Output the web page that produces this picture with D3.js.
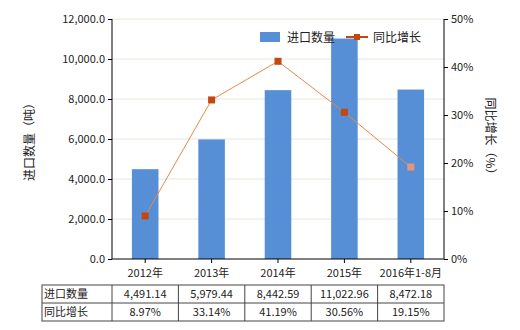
<!DOCTYPE html>
<html>
<head>
<meta charset="utf-8">
<script src="https://cdn.jsdelivr.net/npm/d3@7"></script>
<style>
  body{ margin:0; background:#fff; font-family:"Noto Sans CJK SC", sans-serif; }
  svg text{ font-family:"Noto Sans CJK SC", sans-serif; fill:#222; }
</style>
</head>
<body>
<div id="container"></div>
<script>
var categories = ["2012年", "2013年", "2014年", "2015年", "2016年1-8月"];
var importQty = [4491.14, 5979.44, 8442.59, 11022.96, 8472.18];
var yoyGrowth = [8.97, 33.14, 41.19, 30.56, 19.15];
var qtyLabels = ["4,491.14", "5,979.44", "8,442.59", "11,022.96", "8,472.18"];
var yoyLabels = ["8.97%", "33.14%", "41.19%", "30.56%", "19.15%"];
var leftTicks = [0, 2000, 4000, 6000, 8000, 10000, 12000];
var rightTicks = [0, 10, 20, 30, 40, 50];
var seriesNames = ["进口数量", "同比增长"];

var W = 520, H = 330;
var margin = {top: 19, left: 112, right: 76, bottom: 71};
var width = W - margin.left - margin.right,
    height = H - margin.top - margin.bottom;

var svg = d3.select("#container").append("svg")
    .attr("width", W).attr("height", H);

var x = d3.scaleBand().domain(categories).range([0, width]).paddingInner(0.6).paddingOuter(0.3);
var yL = d3.scaleLinear().domain([0, 12000]).range([height, 0]);
var yR = d3.scaleLinear().domain([0, 50]).range([height, 0]);

var g = svg.append("g").attr("transform", "translate(" + margin.left + "," + margin.top + ")");

// gridlines
g.selectAll(".grid").data(leftTicks.slice(1)).enter().append("line")
  .attr("x1", 0).attr("x2", width)
  .attr("y1", d => yL(d)).attr("y2", d => yL(d))
  .attr("stroke", "#e8e6dc").attr("stroke-width", 1);

// bars
g.selectAll(".bar").data(importQty).enter().append("rect")
  .attr("x", (d, i) => x(categories[i]))
  .attr("width", x.bandwidth())
  .attr("y", d => yL(d))
  .attr("height", d => height - yL(d))
  .attr("fill", "#568fd6");

// line
var line = d3.line()
  .x((d, i) => x(categories[i]) + x.bandwidth() / 2)
  .y(d => yR(d));
g.append("path").datum(yoyGrowth)
  .attr("d", line).attr("fill", "none")
  .attr("stroke", "#e8884a").attr("stroke-width", 1);
g.selectAll(".pt").data(yoyGrowth).enter().append("rect")
  .attr("x", (d, i) => x(categories[i]) + x.bandwidth() / 2 - 3.5)
  .attr("y", d => yR(d) - 3.5)
  .attr("width", 7).attr("height", 7)
  .attr("fill", (d, i) => i == 4 ? "#e4957a" : "#c4470e");

// axes
var axL = g.append("g").call(d3.axisLeft(yL).tickValues(leftTicks).tickSize(4).tickFormat(d3.format(",.1f")));
var axR = g.append("g").attr("transform", "translate(" + width + ",0)")
  .call(d3.axisRight(yR).tickValues(rightTicks).tickSize(4).tickFormat(d => d + "%"));
var axB = g.append("g").attr("transform", "translate(0," + height + ")")
  .call(d3.axisBottom(x).tickSize(4).tickPadding(6));
[axL, axR, axB].forEach(function(a){
  a.selectAll(".domain").attr("stroke", "#000");
  a.selectAll(".tick line").attr("stroke", "#000");
  a.selectAll(".tick text").attr("font-size", 11).attr("fill", "#222");
});
axL.select(".domain").attr("d", "M0,0V" + height);
axR.select(".domain").attr("d", "M0,0V" + height);
axB.select(".domain").attr("d", "M0,0H" + width);

// axis titles
svg.append("text").attr("transform", "translate(34," + (margin.top + height / 2) + ") rotate(-90)")
  .attr("text-anchor", "middle").attr("font-size", 12).text("进口数量（吨）");
svg.append("text").attr("transform", "translate(486," + (margin.top + height / 2) + ") rotate(90)")
  .attr("text-anchor", "middle").attr("font-size", 12).text("同比增长（%）");

// legend
var lg = svg.append("g");
lg.append("rect").attr("x", 260).attr("y", 32).attr("width", 20).attr("height", 10).attr("fill", "#568fd6");
lg.append("text").attr("x", 287).attr("y", 42).attr("font-size", 12).text(seriesNames[0]);
lg.append("line").attr("x1", 346).attr("x2", 368).attr("y1", 37).attr("y2", 37)
  .attr("stroke", "#c4470e").attr("stroke-width", 2);
lg.append("rect").attr("x", 354).attr("y", 34).attr("width", 6).attr("height", 6).attr("fill", "#c4470e");
lg.append("text").attr("x", 373).attr("y", 42).attr("font-size", 12).text(seriesNames[1]);

// data table
var tTop = 285, rowH = 18, tLeft = 42;
var tg = svg.append("g");
var rows = [[seriesNames[0], qtyLabels], [seriesNames[1], yoyLabels]];
var colEdges = [tLeft, margin.left].concat(categories.map(c => margin.left + x(c) + x.bandwidth() / 2 + x.step() / 2));
colEdges[colEdges.length - 1] = margin.left + width;
tg.append("rect").attr("x", tLeft).attr("y", tTop).attr("width", margin.left + width - tLeft).attr("height", rowH * 2)
  .attr("fill", "none").attr("stroke", "#444").attr("stroke-width", 1);
tg.append("line").attr("x1", tLeft).attr("x2", margin.left + width).attr("y1", tTop + rowH).attr("y2", tTop + rowH)
  .attr("stroke", "#444");
colEdges.slice(1, -1).forEach(function(cx){
  tg.append("line").attr("x1", cx).attr("x2", cx).attr("y1", tTop).attr("y2", tTop + rowH * 2).attr("stroke", "#444");
});
rows.forEach(function(r, ri){
  var ty = tTop + rowH * ri + 13;
  tg.append("text").attr("x", tLeft + 2).attr("y", ty).attr("font-size", 11).text(r[0]);
  r[1].forEach(function(v, i){
    tg.append("text").attr("x", margin.left + x(categories[i]) + x.bandwidth() / 2).attr("y", ty)
      .attr("text-anchor", "middle").attr("font-size", 11).text(v);
  });
});
</script>
</body>
</html>
